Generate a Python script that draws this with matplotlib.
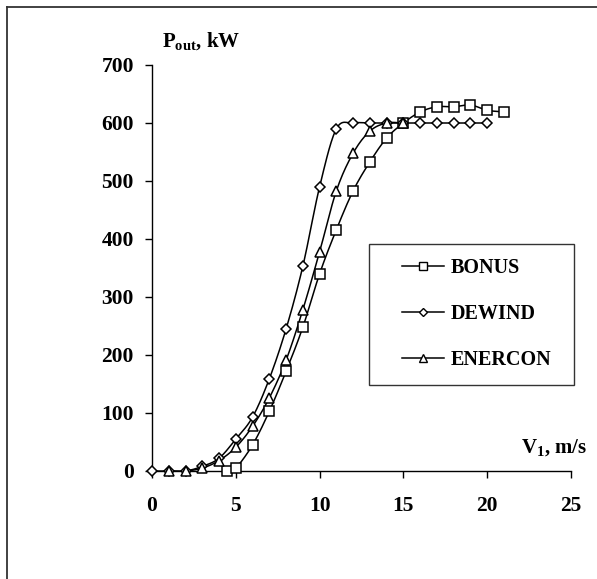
import numpy as np
import matplotlib
matplotlib.use("Agg")
import matplotlib.pyplot as plt
from matplotlib.lines import Line2D
from matplotlib.patches import Rectangle

plt.rcParams['font.family'] = ['Liberation Serif', 'DejaVu Serif']
plt.rcParams['font.weight'] = 'bold'
plt.rcParams['mathtext.fontset'] = 'custom'
plt.rcParams['mathtext.rm'] = 'Liberation Serif:bold'
plt.rcParams['mathtext.it'] = 'Liberation Serif:bold'
plt.rcParams['mathtext.bf'] = 'Liberation Serif:bold'

# ---- data ----
bonus_v = [4.5, 5, 6, 7, 8, 9, 10, 11, 12, 13, 14, 15, 16, 17, 18, 19, 20, 21]
bonus_p = [0, 5, 45, 103, 172, 248, 340, 416, 483, 533, 574, 600, 619, 628, 628, 631, 622, 619]

dewind_v = [0, 1, 2, 3, 4, 5, 6, 7, 8, 9, 10, 11, 12, 13, 14, 15, 16, 17, 18, 19, 20]
dewind_p = [0, 0, 0, 8, 22, 55, 93, 159, 245, 353, 490, 590, 600, 600, 600, 600, 600, 600, 600, 600, 600]

enercon_v = [1, 2, 3, 4, 5, 6, 7, 8, 9, 10, 11, 12, 13, 14, 15]
enercon_p = [0, 0, 5, 18, 41, 77, 126, 191, 278, 378, 483, 548, 586, 600, 600]

series_names = ['BONUS', 'DEWIND', 'ENERCON']
x_ticks = [0, 5, 10, 15, 20, 25]
y_ticks = [0, 100, 200, 300, 400, 500, 600, 700]


def smooth(x, y, n=16):
    """Bezier smoothing of the connecting line (like Excel's smoothed line)."""
    x = np.asarray(x, float)
    y = np.asarray(y, float)
    if len(x) < 3:
        return x, y
    px = np.concatenate([[2 * x[0] - x[1]], x, [2 * x[-1] - x[-2]]])
    py = np.concatenate([[2 * y[0] - y[1]], y, [2 * y[-1] - y[-2]]])
    xs, ys = [], []
    t = np.linspace(0, 1, n, endpoint=False)
    for i in range(1, len(px) - 2):
        p0, p1, p2, p3 = (np.array([px[j], py[j]]) for j in range(i - 1, i + 3))
        b1 = p1 + (p2 - p0) / 6.0
        b2 = p2 - (p3 - p1) / 6.0
        for tt in t:
            pt = ((1 - tt) ** 3) * p1 + 3 * ((1 - tt) ** 2) * tt * b1 + 3 * (1 - tt) * tt ** 2 * b2 + tt ** 3 * p2
            xs.append(pt[0])
            ys.append(pt[1])
    xs.append(x[-1])
    ys.append(y[-1])
    return np.array(xs), np.array(ys)


W, H = 597, 579
fig = plt.figure(figsize=(W / 100, H / 100), dpi=100)

# outer frame (top and left edges visible)
fig.add_artist(Line2D([7 / W, 7 / W], [0, 1 - 7 / H], transform=fig.transFigure,
                      color='#333333', lw=1.3))
fig.add_artist(Line2D([7 / W, 1], [1 - 7 / H, 1 - 7 / H], transform=fig.transFigure,
                      color='#333333', lw=1.3))

ax = fig.add_axes([152 / W, 1 - 471 / H, (571 - 152) / W, (471 - 65) / H])
ax.set_xlim(0, 25)
ax.set_ylim(0, 700)
ax.set_facecolor('none')
for s in ['top', 'right']:
    ax.spines[s].set_visible(False)
for s in ['left', 'bottom']:
    ax.spines[s].set_linewidth(1.0)
    ax.spines[s].set_color('black')

markers = ['s', 'D', '^']
msizes = [7.2, 5.5, 7.5]
data = [(bonus_v, bonus_p), (dewind_v, dewind_p), (enercon_v, enercon_p)]
handles = []
for (v, p), m, ms, name in zip(data, markers, msizes, series_names):
    sx, sy = smooth(v, p)
    ax.plot(sx, sy, color='black', lw=1.1, zorder=2)
    ax.plot(v, p, linestyle='none', marker=m, markersize=ms, markerfacecolor='white',
            markeredgecolor='black', markeredgewidth=1.1, zorder=3, clip_on=False)
    handles.append(Line2D([], [], color='black', lw=1.1, marker=m, markersize=ms * 0.72,
                          markerfacecolor='white', markeredgecolor='black',
                          markeredgewidth=1.0, label=name))

ax.set_xticks(x_ticks)
ax.set_yticks(y_ticks)
ax.set_xticklabels([str(t) for t in x_ticks])
ax.set_yticklabels([str(t) for t in y_ticks])
ax.tick_params(axis='x', direction='out', length=5, width=1, pad=13, labelsize=15.5)
ax.tick_params(axis='y', direction='out', length=5, width=1, pad=8, labelsize=15.5)
for lab in ax.get_xticklabels() + ax.get_yticklabels():
    lab.set_fontweight('bold')

fig.text(162 / W, 1 - 41 / H, r'P$_{\mathrm{out}}$, kW', fontsize=15, fontweight='bold',
         ha='left', va='center')
fig.text(587 / W, 1 - 448 / H, r'V$_{\mathrm{1}}$, m/s', fontsize=15, fontweight='bold',
         ha='right', va='center')

# legend frame
fig.add_artist(Rectangle((369 / W, 1 - 385 / H), (574 - 369) / W, (385 - 244) / H,
                         transform=fig.transFigure, fill=False, edgecolor='#333333', lw=1.0))
leg = fig.legend(handles=handles, loc='upper left', bbox_to_anchor=(402 / W, 1 - 258 / H),
                 frameon=False, borderpad=0, borderaxespad=0, handlelength=2.1,
                 handletextpad=0.3, labelspacing=1.3,
                 prop={'family': 'Liberation Serif', 'weight': 'bold', 'size': 14.5})

fig.savefig('out.png', dpi=100)
